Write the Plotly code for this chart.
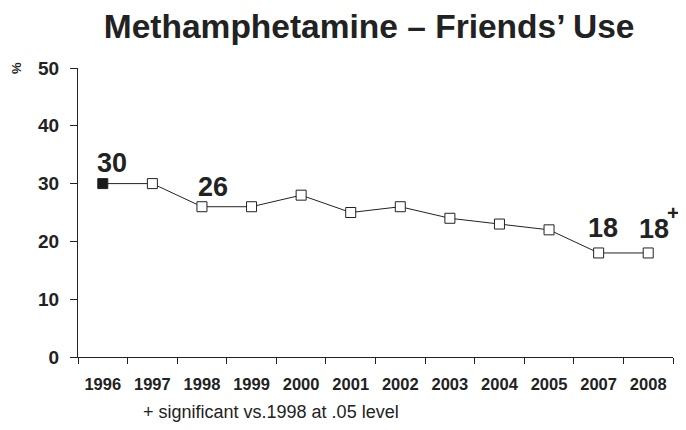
import plotly.graph_objects as go

years = ["1996", "1997", "1998", "1999", "2000", "2001", "2002", "2003", "2004", "2005", "2007", "2008"]
values = [30, 30, 26, 26, 28, 25, 26, 24, 23, 22, 18, 18]
labeled_years = ["1996", "1998", "2007", "2008"]
significant_years = ["2008"]
y_ticks = [0, 10, 20, 30, 40, 50]

FONT = "Liberation Sans, Arial, sans-serif"
INK = "#222222"

marker_fill = ["#1a1a1a" if i == 0 else "white" for i in range(len(years))]

fig = go.Figure()
fig.add_trace(go.Scatter(
    x=years, y=values, mode="lines+markers",
    line=dict(color=INK, width=1),
    marker=dict(symbol="square", size=10, color=marker_fill,
                line=dict(color=INK, width=1)),
    showlegend=False, cliponaxis=False,
))

label_shift = {"1996": (9, 21), "1998": (11, 20), "2007": (4, 25), "2008": (6, 24)}

annotations = []
for i, (yr, v) in enumerate(zip(years, values)):
    if yr in labeled_years:
        dx, dy = label_shift[yr]
        annotations.append(dict(x=i, y=v, text=f"<b>{v}</b>", showarrow=False,
                                xshift=dx, yshift=dy,
                                font=dict(family=FONT, size=27, color=INK)))
    if yr in significant_years:
        annotations.append(dict(x=i, y=v, text="<b>+</b>", showarrow=False,
                                xshift=25, yshift=40,
                                font=dict(family=FONT, size=21, color=INK)))

annotations.append(dict(xref="paper", yref="paper", x=-0.104, y=1.0, text="<b>%</b>",
                        textangle=-90, showarrow=False, xanchor="center", yanchor="middle",
                        font=dict(family=FONT, size=13, color=INK)))
annotations.append(dict(xref="paper", yref="paper", x=0.106, y=-0.19,
                        text="+ significant vs.1998 at .05 level", showarrow=False,
                        xanchor="left", yanchor="middle",
                        font=dict(family=FONT, size=18, color=INK)))

fig.update_layout(
    width=670, height=414,
    margin=dict(l=70, r=5, t=60, b=65),
    paper_bgcolor="white", plot_bgcolor="white",
    title=dict(text="<b>Methamphetamine – Friends’ Use</b>", x=0.539, xanchor="center",
               y=0.957, yanchor="middle",
               font=dict(family=FONT, size=33.5, color=INK)),
    annotations=annotations,
    xaxis=dict(type="category", categoryorder="array", categoryarray=years,
               range=[-0.5, len(years) - 0.5], autorange=False,
               tickvals=years, ticktext=[f"<b>{y}</b>" for y in years],
               showline=True, linecolor=INK, linewidth=1,
               ticks="outside", tickson="boundaries", ticklen=6, tickcolor=INK,
               showgrid=False, zeroline=False, ticklabelstandoff=12,
               tickfont=dict(family=FONT, size=16.5, color=INK)),
    yaxis=dict(range=[0, 50], autorange=False, tickvals=y_ticks, ticktext=[f"<b>{t}</b>" for t in y_ticks],
               showline=True, linecolor=INK, linewidth=1,
               ticks="outside", ticklen=7, tickcolor=INK, showgrid=False, zeroline=False,
               ticklabelstandoff=7,
               tickfont=dict(family=FONT, size=19, color=INK)),
)

fig.write_html("out.html")
